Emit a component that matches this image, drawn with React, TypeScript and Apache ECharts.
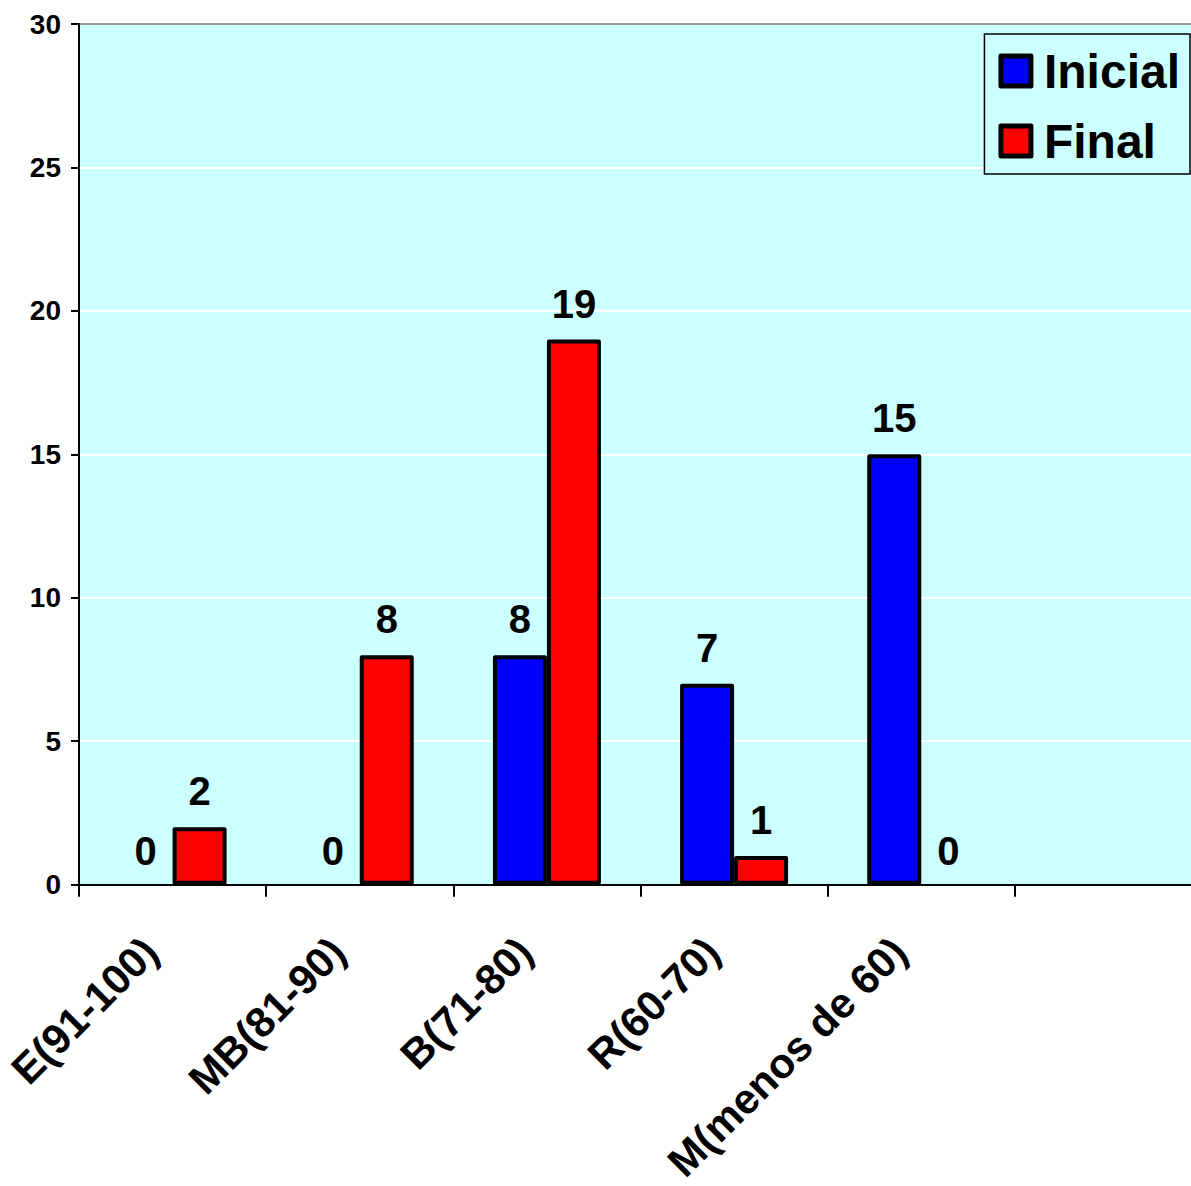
import React, { useEffect, useRef } from "react";
import * as echarts from "echarts";

const categories = ["E(91-100)", "MB(81-90)", "B(71-80)", "R(60-70)", "M(menos de 60)", ""];
const inicial: (number | string)[] = [0, 0, 8, 7, 15, "-"];
const final: (number | string)[] = [2, 8, 19, 1, 0, "-"];
const yTicks = { min: 0, max: 30, interval: 5 };

const FONT = "'Liberation Sans', Arial, Helvetica, sans-serif";

function toData(arr: (number | string)[]) {
  return arr.map((v) =>
    v === 0
      ? { value: v, itemStyle: { borderWidth: 0, opacity: 0 }, label: { distance: 14 } }
      : v
  );
}

export default function App() {
  const ref = useRef<HTMLDivElement>(null);
  useEffect(() => {
    if (!ref.current) return;
    const chart = echarts.init(ref.current, undefined, { renderer: "svg" });
    const barStyle = { borderColor: "#000", borderWidth: 4, borderJoin: "round" as const };
    const label = {
      show: true,
      position: "top" as const,
      distance: 16,
      color: "#000",
      opacity: 1,
      fontFamily: FONT,
      fontWeight: "bold" as const,
      fontSize: 40,
    };
    chart.setOption({
      animation: false,
      backgroundColor: "#fff",
      grid: {
        left: 79,
        top: 24,
        bottom: 298,
        right: 1,
        show: true,
        backgroundColor: "#CCFFFF",
        borderColor: "#999",
        borderWidth: 1.5,
      },
      legend: {
        orient: "vertical",
        right: 13,
        top: 34,
        backgroundColor: "#CCFFFF",
        borderColor: "#000",
        borderWidth: 1.5,
        borderRadius: 0,
        padding: [12, 10, 8, 14],
        itemWidth: 30,
        itemHeight: 30,
        itemGap: 20,
        icon: "rect",
        itemStyle: { borderColor: "#000", borderWidth: 5, borderJoin: "round" },
        textStyle: {
          color: "#000",
          fontFamily: FONT,
          fontWeight: "bold",
          fontSize: 48,
          lineHeight: 50,
          padding: [0, 0, 0, 8],
        },
        data: ["Inicial", "Final"],
      },
      xAxis: {
        type: "category",
        data: categories,
        axisLine: { lineStyle: { color: "#000", width: 2 } },
        axisTick: { show: true, length: 12, lineStyle: { color: "#000", width: 2 } },
        axisLabel: {
          interval: 0,
          rotate: 45,
          margin: 38,
          padding: [0, 31, 0, 0],
          color: "#000",
          fontFamily: FONT,
          fontWeight: "bold",
          fontSize: 42,
        },
        splitLine: { show: false },
      },
      yAxis: {
        type: "value",
        min: yTicks.min,
        max: yTicks.max,
        interval: yTicks.interval,
        axisLine: { show: true, lineStyle: { color: "#000", width: 2 } },
        axisTick: { show: true, length: 8, lineStyle: { color: "#000", width: 2 } },
        axisLabel: {
          margin: 18,
          color: "#000",
          fontFamily: FONT,
          fontWeight: "bold",
          fontSize: 28,
        },
        splitLine: {
          show: true,
          lineStyle: {
            color: ["#fff", "#fff", "#fff", "#fff", "#fff", "#fff", "#999"],
            width: 2,
          },
        },
      },
      series: [
        {
          name: "Inicial",
          type: "bar",
          data: toData(inicial),
          barWidth: 54,
          barGap: "0%",
          itemStyle: { ...barStyle, color: "#0000FF" },
          label,
        },
        {
          name: "Final",
          type: "bar",
          data: toData(final),
          barWidth: 54,
          barGap: "0%",
          itemStyle: { ...barStyle, color: "#FF0000" },
          label,
        },
      ],
    });
    return () => chart.dispose();
  }, []);
  return (
    <div
      style={{
        position: "absolute",
        left: 0,
        top: 0,
        width: 1191,
        height: 1186,
        overflow: "hidden",
        background: "#fff",
      }}
    >
      <div ref={ref} style={{ width: 1203, height: 1186 }} />
    </div>
  );
}
